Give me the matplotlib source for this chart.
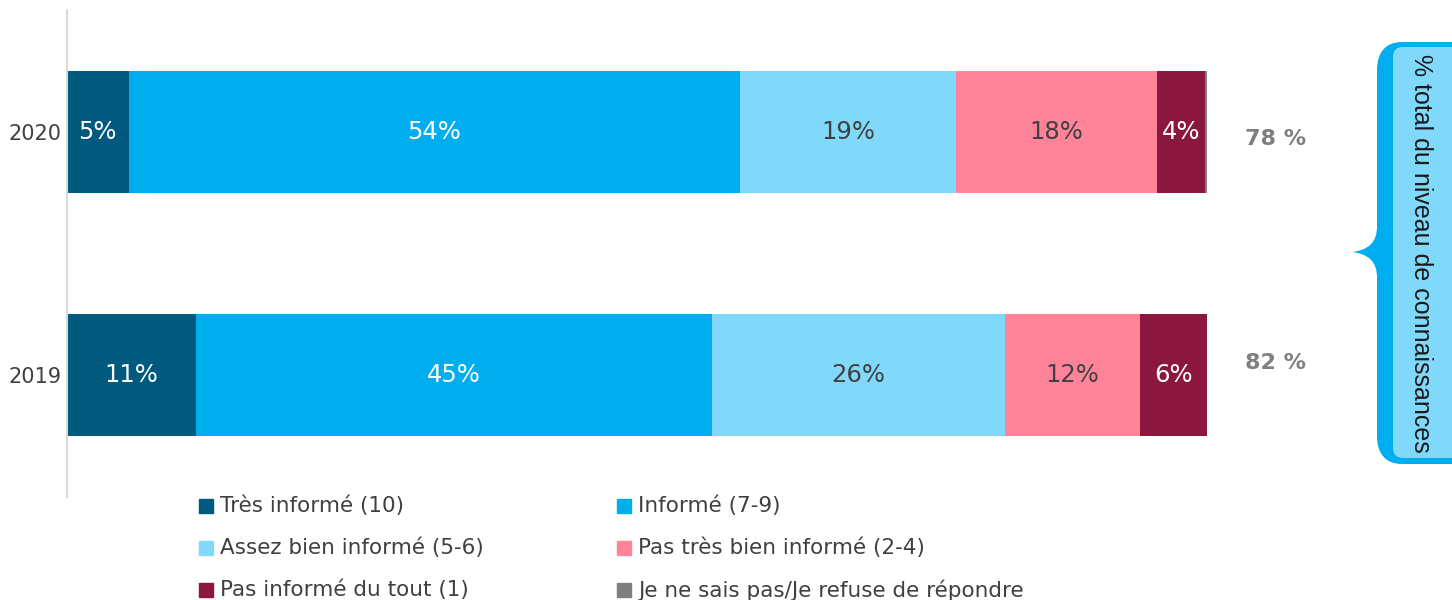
import matplotlib.pyplot as plt
import matplotlib.patches as mpatches
from matplotlib.path import Path

# --- data ---
years = ['2019', '2020']
categories = ['Très informé (10)', 'Informé (7-9)', 'Assez bien informé (5-6)',
              'Pas très bien informé (2-4)', 'Pas informé du tout (1)',
              'Je ne sais pas/Je refuse de répondre']
colors = ['#005A7E', '#00AEEF', '#80D9FB', '#FF8399', '#8B173E', '#7F7F7F']
label_colors = ['white', 'white', '#404040', '#404040', 'white', 'white']

# shares in %, order [2019, 2020]
tres_informe = [11.3, 5.4]
informe = [45.3, 53.6]
assez_bien = [25.7, 19.0]
pas_tres_bien = [11.8, 17.6]
pas_du_tout = [5.9, 4.2]
ne_sais_pas = [0.0, 0.2]
series = [tres_informe, informe, assez_bien, pas_tres_bien, pas_du_tout, ne_sais_pas]

W, H = 1452, 600
fig = plt.figure(figsize=(W / 100, H / 100), dpi=100)
ax = fig.add_axes([67 / W, (H - 497) / H, (1207 - 67) / W, 487 / H])

ypos = list(range(len(years)))
left = [0.0] * len(years)
for vals, col, tcol in zip(series, colors, label_colors):
    ax.barh(ypos, vals, left=left, height=0.5, color=col)
    for y, v, l in zip(ypos, vals, left):
        if v >= 1:
            ax.text(l + v / 2, y, f'{round(v)}%', ha='center', va='center',
                    fontsize=17.5, color=tcol)
    left = [l + v for l, v in zip(left, vals)]

# total "informé" share (first three categories)
for y in ypos:
    tot = sum(round(s[y]) for s in series[:3])
    ax.text(106, y + (0.05 if y == 0 else -0.03), f'{tot} %', ha='center', va='center',
            fontsize=16, fontweight='bold', color='#7F7F7F', clip_on=False)

ax.set_xlim(0, 100)
ax.set_ylim(-0.5, 1.5)
ax.set_yticks(ypos, years, fontsize=15, color='#404040')
ax.tick_params(axis='y', length=0, pad=4)
ax.set_xticks([])
for s in ['top', 'right', 'bottom']:
    ax.spines[s].set_visible(False)
ax.spines['left'].set_color('#D9D9D9')
ax.spines['left'].set_linewidth(1.5)

# --- overlay in pixel coords for legend and brace callout ---
ov = fig.add_axes([0, 0, 1, 1])
ov.set_xlim(0, W)
ov.set_ylim(H, 0)
ov.axis('off')
ov.patch.set_alpha(0)

for i, (cat, col) in enumerate(zip(categories, colors)):
    x = [199, 617][i % 2]
    y = 506 + 42 * (i // 2)
    ov.add_patch(mpatches.Rectangle((x, y - 7), 14, 14, color=col))
    ov.text(x + 21, y, cat, ha='left', va='center', fontsize=15.5, color='#404040')

verts = [(1460, 42), (1402, 42),
         (1386, 42), (1377, 52), (1377, 70),
         (1377, 226),
         (1377, 242), (1369, 250), (1352, 252),
         (1369, 254), (1377, 262), (1377, 278),
         (1377, 436),
         (1377, 454), (1386, 464), (1402, 464),
         (1460, 464), (1460, 42)]
codes = [Path.MOVETO, Path.LINETO,
         Path.CURVE4, Path.CURVE4, Path.CURVE4,
         Path.LINETO,
         Path.CURVE4, Path.CURVE4, Path.CURVE4,
         Path.CURVE4, Path.CURVE4, Path.CURVE4,
         Path.LINETO,
         Path.CURVE4, Path.CURVE4, Path.CURVE4,
         Path.LINETO, Path.CLOSEPOLY]
ov.add_patch(mpatches.PathPatch(Path(verts, codes), fc='#00AEEF', ec='none'))
ov.add_patch(mpatches.FancyBboxPatch((1393, 47), 90, 411,
                                     boxstyle='round,pad=0,rounding_size=10',
                                     fc='#80D9FB', ec='none'))
ov.text(1421, 253, '% total du niveau de connaissances', rotation=-90,
        ha='center', va='center', fontsize=18, family='Liberation Sans',
        color='#1A1A1A')

fig.savefig('out.png', dpi=100)
